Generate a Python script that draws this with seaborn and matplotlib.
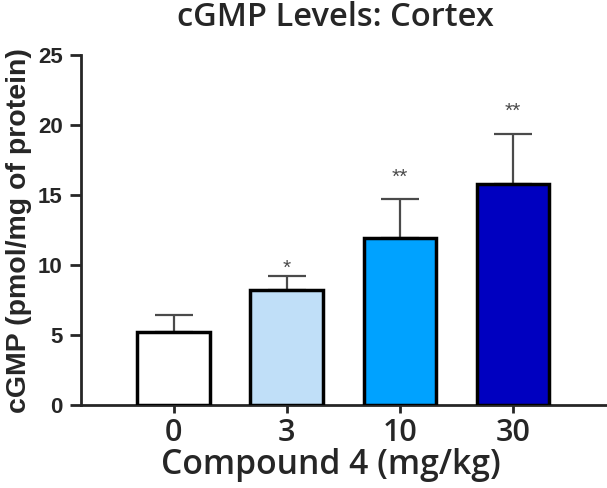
import matplotlib
matplotlib.use("Agg")
import matplotlib.pyplot as plt
import numpy as np
import seaborn as sns

# Data
doses = ["0", "3", "10", "30"]
means = [5.2, 8.2, 11.9, 15.8]
sem = [1.2, 1.0, 2.8, 3.6]
stars = ["", "*", "**", "**"]
bar_colors = ["#FFFFFF", "#C0DFF8", "#00A2FF", "#0000C0"]

sns.set_style("ticks")
plt.rcParams["font.family"] = ["Liberation Sans", "DejaVu Sans"]

fig = plt.figure(figsize=(6.07, 4.88), dpi=100)
ax = fig.add_axes([0.133, 0.170, 0.865, 0.717])

sns.barplot(x=doses, y=means, hue=doses, palette=bar_colors, legend=False,
            saturation=1, edgecolor="black", linewidth=2.5, width=0.64,
            ax=ax, zorder=3)

# upper-only error bars
ax.errorbar(np.arange(len(doses)), means, yerr=[np.zeros(len(sem)), sem],
            fmt="none", ecolor="#4a4a4a", elinewidth=1.6, capsize=14,
            capthick=1.6, zorder=2)

# significance marks: single star sits closer to its error bar
star_gap = {"*": 0.15, "**": 1.2}
for i, (m, s, st) in enumerate(zip(means, sem, stars)):
    if st:
        ax.text(i, m + s + star_gap[st], st, ha="center", va="baseline",
                fontsize=15, color="#4a4a4a")

ax.set_ylim(0, 25)
ax.set_xlim(-0.82, 3.82)
ax.set_yticks([0, 5, 10, 15, 20, 25])
ax.tick_params(axis="y", labelsize=16, width=2, length=8, pad=5)
ax.tick_params(axis="x", labelsize=22, width=2, length=6)
for lab in ax.get_yticklabels():
    lab.set_fontweight("bold")
for lab in ax.get_xticklabels():
    lab.set_family(["Open Sans", "DejaVu Sans"])
    lab.set_fontweight("semibold")

sns.despine(ax=ax)
ax.spines["left"].set_linewidth(2)
ax.spines["bottom"].set_linewidth(2)

ax.set_ylabel("cGMP (pmol/mg of protein)", fontsize=20.5, fontweight="bold",
              labelpad=4)
ax.set_xlabel("Compound 4 (mg/kg)", fontsize=24.3, fontweight="semibold",
              family=["Open Sans", "DejaVu Sans"], labelpad=0)
ax.xaxis.label.set_x(0.476)
fig.suptitle("cGMP Levels: Cortex", x=0.553, y=0.997, fontsize=23.5,
             fontweight="semibold", family=["Open Sans", "DejaVu Sans"])

fig.savefig("out.png", dpi=100)
